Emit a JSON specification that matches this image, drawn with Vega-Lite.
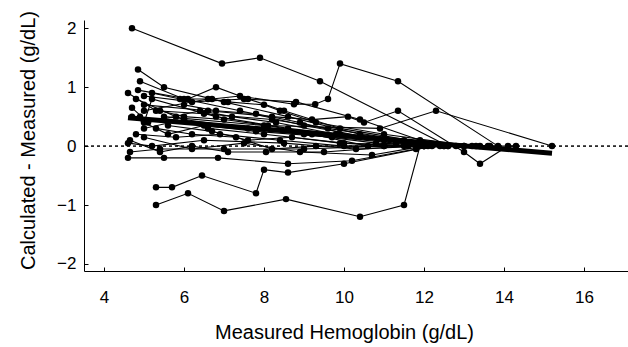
{
  "$schema": "https://vega.github.io/schema/vega-lite/v6.json",
  "autosize": "none",
  "width": 544,
  "height": 251,
  "padding": {"left": 84, "top": 20, "right": 0, "bottom": 76},
  "background": "white",
  "config": {
    "view": {"stroke": null},
    "font": "Liberation Sans",
    "axis": {"labelFont": "Liberation Sans", "titleFont": "Liberation Sans", "labelColor": "black", "titleColor": "black", "domainColor": "black", "tickColor": "black", "grid": false, "titleFontWeight": "normal", "labelFontSize": 17, "titleFontSize": 20}
  },
  "datasets": {
    "subjects": [
      {"s": 1, "x": 4.7, "y": 2.0}, {"s": 1, "x": 6.95, "y": 1.4}, {"s": 1, "x": 7.9, "y": 1.5}, {"s": 1, "x": 9.4, "y": 1.1}, {"s": 1, "x": 12.6, "y": 0.0},
      {"s": 2, "x": 4.85, "y": 1.3}, {"s": 2, "x": 5.5, "y": 1.0}, {"s": 2, "x": 7.0, "y": 0.75}, {"s": 2, "x": 8.6, "y": 0.5}, {"s": 2, "x": 10.4, "y": 0.2}, {"s": 2, "x": 12.4, "y": 0.0},
      {"s": 3, "x": 4.9, "y": 1.1}, {"s": 3, "x": 6.0, "y": 0.8}, {"s": 3, "x": 7.4, "y": 0.6}, {"s": 3, "x": 9.0, "y": 0.35}, {"s": 3, "x": 11.0, "y": 0.1}, {"s": 3, "x": 13.0, "y": 0.0},
      {"s": 4, "x": 4.6, "y": 0.9}, {"s": 4, "x": 5.3, "y": 0.6}, {"s": 4, "x": 6.5, "y": 0.55}, {"s": 4, "x": 8.2, "y": 0.45}, {"s": 4, "x": 9.6, "y": 0.3}, {"s": 4, "x": 11.5, "y": 0.1}, {"s": 4, "x": 13.65, "y": 0.0},
      {"s": 5, "x": 5.2, "y": 0.9}, {"s": 5, "x": 5.9, "y": 0.8}, {"s": 5, "x": 6.7, "y": 0.8}, {"s": 5, "x": 7.4, "y": 0.85}, {"s": 5, "x": 8.75, "y": 0.71}, {"s": 5, "x": 9.28, "y": 0.71}, {"s": 5, "x": 9.6, "y": 0.8}, {"s": 5, "x": 9.9, "y": 1.4}, {"s": 5, "x": 11.35, "y": 1.1}, {"s": 5, "x": 13.85, "y": 0.0},
      {"s": 6, "x": 5.0, "y": 0.7}, {"s": 6, "x": 6.6, "y": 0.6}, {"s": 6, "x": 8.2, "y": 0.5}, {"s": 6, "x": 9.2, "y": 0.45}, {"s": 6, "x": 10.1, "y": 0.5}, {"s": 6, "x": 10.5, "y": 0.4}, {"s": 6, "x": 11.35, "y": 0.6}, {"s": 6, "x": 13.0, "y": -0.1}, {"s": 6, "x": 13.4, "y": -0.3}, {"s": 6, "x": 14.1, "y": 0.0},
      {"s": 7, "x": 5.5, "y": 0.5}, {"s": 7, "x": 8.0, "y": 0.35}, {"s": 7, "x": 10.9, "y": 0.3}, {"s": 7, "x": 12.3, "y": 0.6}, {"s": 7, "x": 15.2, "y": 0.0},
      {"s": 8, "x": 4.6, "y": -0.2}, {"s": 8, "x": 5.5, "y": -0.2}, {"s": 8, "x": 6.85, "y": -0.2}, {"s": 8, "x": 8.6, "y": -0.3}, {"s": 8, "x": 10.2, "y": -0.25}, {"s": 8, "x": 11.8, "y": -0.05}, {"s": 8, "x": 12.5, "y": 0.0},
      {"s": 9, "x": 4.65, "y": 0.1}, {"s": 9, "x": 5.4, "y": -0.1}, {"s": 9, "x": 6.2, "y": 0.0}, {"s": 9, "x": 7.1, "y": -0.1}, {"s": 9, "x": 8.05, "y": -0.1}, {"s": 9, "x": 9.5, "y": -0.1}, {"s": 9, "x": 11.5, "y": 0.0},
      {"s": 10, "x": 4.65, "y": -0.1}, {"s": 10, "x": 5.4, "y": -0.05}, {"s": 10, "x": 7.0, "y": -0.05}, {"s": 10, "x": 9.0, "y": -0.05}, {"s": 10, "x": 11.0, "y": 0.0},
      {"s": 11, "x": 5.3, "y": -0.7}, {"s": 11, "x": 5.7, "y": -0.7}, {"s": 11, "x": 6.45, "y": -0.5}, {"s": 11, "x": 7.8, "y": -0.8}, {"s": 11, "x": 8.0, "y": -0.4}, {"s": 11, "x": 8.6, "y": -0.45}, {"s": 11, "x": 10.0, "y": -0.3}, {"s": 11, "x": 12.2, "y": 0.0},
      {"s": 12, "x": 5.3, "y": -1.0}, {"s": 12, "x": 6.1, "y": -0.8}, {"s": 12, "x": 7.0, "y": -1.1}, {"s": 12, "x": 8.55, "y": -0.9}, {"s": 12, "x": 10.4, "y": -1.2}, {"s": 12, "x": 11.5, "y": -1.0}, {"s": 12, "x": 11.9, "y": 0.0}, {"s": 12, "x": 14.3, "y": 0.0},
      {"s": 13, "x": 4.8, "y": 0.8}, {"s": 13, "x": 5.8, "y": 0.5}, {"s": 13, "x": 6.6, "y": 0.3}, {"s": 13, "x": 8.0, "y": 0.2}, {"s": 13, "x": 10.0, "y": 0.05}, {"s": 13, "x": 12.0, "y": 0.0},
      {"s": 14, "x": 4.9, "y": 0.5}, {"s": 14, "x": 5.0, "y": 0.3}, {"s": 14, "x": 6.0, "y": 0.45}, {"s": 14, "x": 7.6, "y": 0.3}, {"s": 14, "x": 9.0, "y": 0.2}, {"s": 14, "x": 10.8, "y": 0.05}, {"s": 14, "x": 12.8, "y": 0.0},
      {"s": 15, "x": 5.0, "y": 0.6}, {"s": 15, "x": 6.6, "y": 0.8}, {"s": 15, "x": 7.1, "y": 0.75}, {"s": 15, "x": 8.0, "y": 0.7}, {"s": 15, "x": 8.4, "y": 0.6}, {"s": 15, "x": 9.3, "y": 0.4}, {"s": 15, "x": 11.0, "y": 0.2}, {"s": 15, "x": 13.2, "y": 0.0},
      {"s": 16, "x": 4.8, "y": 0.2}, {"s": 16, "x": 5.8, "y": 0.15}, {"s": 16, "x": 6.9, "y": 0.2}, {"s": 16, "x": 8.4, "y": 0.1}, {"s": 16, "x": 10.0, "y": 0.0}, {"s": 16, "x": 12.0, "y": 0.0},
      {"s": 17, "x": 5.0, "y": 0.4}, {"s": 17, "x": 5.2, "y": 0.8}, {"s": 17, "x": 6.8, "y": 0.5}, {"s": 17, "x": 8.6, "y": 0.3}, {"s": 17, "x": 9.9, "y": 0.2}, {"s": 17, "x": 12.1, "y": 0.0},
      {"s": 18, "x": 4.7, "y": 0.5}, {"s": 18, "x": 5.6, "y": 0.2}, {"s": 18, "x": 6.5, "y": 0.35}, {"s": 18, "x": 7.8, "y": 0.25}, {"s": 18, "x": 9.7, "y": 0.15}, {"s": 18, "x": 11.3, "y": 0.05}, {"s": 18, "x": 13.6, "y": 0.0},
      {"s": 19, "x": 4.85, "y": 0.95}, {"s": 19, "x": 6.1, "y": 0.8}, {"s": 19, "x": 6.8, "y": 1.0}, {"s": 19, "x": 7.6, "y": 0.8}, {"s": 19, "x": 8.5, "y": 0.6}, {"s": 19, "x": 9.9, "y": 0.3}, {"s": 19, "x": 12.5, "y": 0.0},
      {"s": 20, "x": 5.3, "y": 0.3}, {"s": 20, "x": 6.2, "y": 0.2}, {"s": 20, "x": 7.3, "y": 0.15}, {"s": 20, "x": 8.2, "y": -0.05}, {"s": 20, "x": 9.3, "y": 0.0}, {"s": 20, "x": 11.0, "y": 0.0},
      {"s": 21, "x": 4.6, "y": 0.05}, {"s": 21, "x": 5.2, "y": 0.0}, {"s": 21, "x": 6.5, "y": 0.1}, {"s": 21, "x": 8.5, "y": 0.05}, {"s": 21, "x": 10.3, "y": -0.05}, {"s": 21, "x": 12.0, "y": 0.0},
      {"s": 22, "x": 5.0, "y": 0.85}, {"s": 22, "x": 6.2, "y": 0.75}, {"s": 22, "x": 7.5, "y": 0.8}, {"s": 22, "x": 8.8, "y": 0.75}, {"s": 22, "x": 10.4, "y": 0.45}, {"s": 22, "x": 11.9, "y": 0.1}, {"s": 22, "x": 13.4, "y": 0.0},
      {"s": 23, "x": 5.4, "y": 0.6}, {"s": 23, "x": 6.0, "y": 0.5}, {"s": 23, "x": 7.0, "y": 0.45}, {"s": 23, "x": 8.1, "y": 0.35}, {"s": 23, "x": 9.2, "y": 0.2}, {"s": 23, "x": 10.6, "y": 0.0}, {"s": 23, "x": 12.6, "y": 0.0},
      {"s": 24, "x": 6.0, "y": 0.7}, {"s": 24, "x": 6.8, "y": 0.6}, {"s": 24, "x": 7.8, "y": 0.55}, {"s": 24, "x": 8.9, "y": 0.4}, {"s": 24, "x": 10.4, "y": 0.15}, {"s": 24, "x": 12.0, "y": 0.05}, {"s": 24, "x": 13.0, "y": 0.0},
      {"s": 25, "x": 5.6, "y": 0.35}, {"s": 25, "x": 6.7, "y": 0.25}, {"s": 25, "x": 7.6, "y": 0.1}, {"s": 25, "x": 8.7, "y": 0.15}, {"s": 25, "x": 9.9, "y": 0.05}, {"s": 25, "x": 11.6, "y": 0.0},
      {"s": 26, "x": 4.7, "y": 0.65}, {"s": 26, "x": 5.1, "y": 0.4}, {"s": 26, "x": 6.4, "y": 0.6}, {"s": 26, "x": 7.2, "y": 0.5}, {"s": 26, "x": 8.3, "y": 0.4}, {"s": 26, "x": 9.8, "y": 0.2}, {"s": 26, "x": 11.8, "y": 0.05}, {"s": 26, "x": 13.3, "y": 0.0},
      {"s": 27, "x": 5.0, "y": 0.15}, {"s": 27, "x": 6.2, "y": -0.05}, {"s": 27, "x": 7.5, "y": 0.05}, {"s": 27, "x": 8.9, "y": -0.1}, {"s": 27, "x": 10.7, "y": -0.15}, {"s": 27, "x": 12.0, "y": 0.0}
    ],
    "mean": [
      {"x": 4.6, "y": 0.48}, {"x": 15.2, "y": -0.12}
    ]
  },
  "layer": [
    {
      "data": {"name": "mean"},
      "mark": {"type": "rule", "color": "black", "strokeWidth": 1, "strokeDash": [3, 3]},
      "encoding": {"y": {"datum": 0, "type": "quantitative"}}
    },
    {
      "data": {"name": "subjects"},
      "mark": {"type": "line", "color": "black", "strokeWidth": 1.1},
      "encoding": {
        "x": {"field": "x", "type": "quantitative", "scale": {"domain": [3.5, 17.1], "nice": false, "zero": false},
          "axis": {"title": "Measured Hemoglobin (g/dL)", "values": [4, 6, 8, 10, 12, 14, 16], "format": "d", "tickSize": -4, "labelPadding": 22, "titlePadding": 17, "titleX": 260, "labelFlush": false}},
        "y": {"field": "y", "type": "quantitative", "scale": {"domain": [-2.12, 2.14], "nice": false, "zero": false},
          "axis": {"title": "Calculated - Measured (g/dL)", "values": [-2, -1, 0, 1, 2], "format": "d", "tickSize": -4, "labelPadding": 12, "titleX": -46, "titleY": 120, "labelFlush": false}},
        "detail": {"field": "s", "type": "nominal"}
      }
    },
    {
      "data": {"name": "subjects"},
      "mark": {"type": "point", "filled": true, "color": "black", "opacity": 1, "size": 42},
      "encoding": {
        "x": {"field": "x", "type": "quantitative"},
        "y": {"field": "y", "type": "quantitative"}
      }
    },
    {
      "data": {"name": "mean"},
      "mark": {"type": "line", "color": "black", "strokeWidth": 5},
      "encoding": {
        "x": {"field": "x", "type": "quantitative"},
        "y": {"field": "y", "type": "quantitative"}
      }
    }
  ]
}
